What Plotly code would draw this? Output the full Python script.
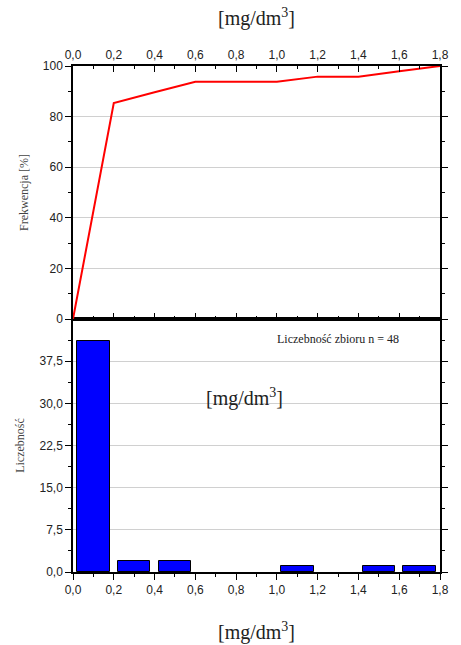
import plotly.graph_objects as go

# data
cum_x = [0.0, 0.2, 0.4, 0.6, 0.8, 1.0, 1.2, 1.4, 1.6, 1.8]
cum_y = [0.0, 85.4, 89.6, 93.75, 93.75, 93.75, 95.8, 95.8, 97.9, 100.0]
bin_centers = [0.1, 0.3, 0.5, 0.7, 0.9, 1.1, 1.3, 1.5, 1.7]
counts = [41, 2, 2, 0, 0, 1, 0, 1, 1]
x_ticks = [0.0, 0.2, 0.4, 0.6, 0.8, 1.0, 1.2, 1.4, 1.6, 1.8]
x_labels = ["0,0", "0,2", "0,4", "0,6", "0,8", "1,0", "1,2", "1,4", "1,6", "1,8"]
top_y_ticks = [0, 20, 40, 60, 80, 100]
bot_y_ticks = [0.0, 7.5, 15.0, 22.5, 30.0, 37.5]
bot_y_labels = ["0,0", "7,5", "15,0", "22,5", "30,0", "37,5"]

SANS = "Liberation Sans, Arial, sans-serif"
SERIF = "Liberation Serif, Times New Roman, serif"

bar_x = [c for c, n in zip(bin_centers, counts) if n > 0]
bar_y = [n for n in counts if n > 0]

fig = go.Figure()
fig.add_trace(go.Scatter(x=cum_x, y=cum_y, mode="lines",
                         line=dict(color="#ff0000", width=2),
                         xaxis="x2", yaxis="y2", showlegend=False))
fig.add_trace(go.Bar(x=bar_x, y=bar_y, width=0.16,
                     marker=dict(color="#0000ff", line=dict(color="#000000", width=1)),
                     xaxis="x", yaxis="y", showlegend=False))

axis_common = dict(showline=True, linecolor="black", linewidth=1.5,
                   tickcolor="black", tickwidth=1.2, zeroline=False,
                   tickfont=dict(family=SANS, size=12, color="#222"))

fig.update_layout(
    width=461, height=645,
    margin=dict(l=73, r=17, t=66, b=73),
    plot_bgcolor="white", paper_bgcolor="white",
    bargap=0,
    xaxis=dict(domain=[0, 1], anchor="y", range=[0, 1.8],
               tickvals=x_ticks, ticktext=x_labels, ticks="outside", ticklen=6,
               mirror=True, showgrid=False,
               minor=dict(dtick=0.1, tick0=0, ticks="outside", ticklen=3, tickcolor="black"),
               **axis_common),
    yaxis=dict(domain=[0, 0.5], anchor="x", range=[0, 45],
               tickvals=bot_y_ticks, ticktext=bot_y_labels, ticks="outside", ticklen=6,
               mirror="ticks", showgrid=True, gridcolor="#d0d0d0", gridwidth=1,
               minor=dict(dtick=3.75, tick0=0, ticks="outside", ticklen=3, tickcolor="black"),
               title=dict(text="Liczebność", font=dict(family=SERIF, size=12, color="#444"), standoff=12),
               **axis_common),
    xaxis2=dict(domain=[0, 1], anchor="y2", range=[0, 1.8], side="top",
                tickvals=x_ticks, ticktext=x_labels, ticks="inside", ticklen=6,
                mirror="ticks", showgrid=False,
                minor=dict(dtick=0.1, tick0=0, ticks="inside", ticklen=3, tickcolor="black"),
                **axis_common),
    yaxis2=dict(domain=[0.5, 1], anchor="x2", range=[0, 100],
                tickvals=top_y_ticks, ticks="outside", ticklen=6,
                mirror="ticks", showgrid=True, gridcolor="#d0d0d0", gridwidth=1,
                minor=dict(dtick=10, tick0=0, ticks="outside", ticklen=3, tickcolor="black"),
                title=dict(text="Frekwencja [%]", font=dict(family=SERIF, size=12, color="#444"), standoff=12),
                **axis_common),
    annotations=[
        dict(text="[mg/dm<sup>3</sup>]", xref="paper", yref="paper", x=0.5, y=1, yshift=34,
             showarrow=False, font=dict(family=SERIF, size=20, color="#222"), yanchor="bottom"),
        dict(text="[mg/dm<sup>3</sup>]", xref="paper", yref="paper", x=0.5, y=0, yshift=-45,
             showarrow=False, font=dict(family=SERIF, size=20, color="#222"), yanchor="top"),
        dict(text="[mg/dm<sup>3</sup>]", xref="x", yref="y", x=0.84, y=31,
             showarrow=False, font=dict(family=SERIF, size=20, color="#222")),
        dict(text="Liczebność zbioru n = 48", xref="x", yref="y", x=1.3, y=41.5,
             showarrow=False, font=dict(family=SERIF, size=12, color="#222")),
    ],
)

fig.write_html("out.html")
